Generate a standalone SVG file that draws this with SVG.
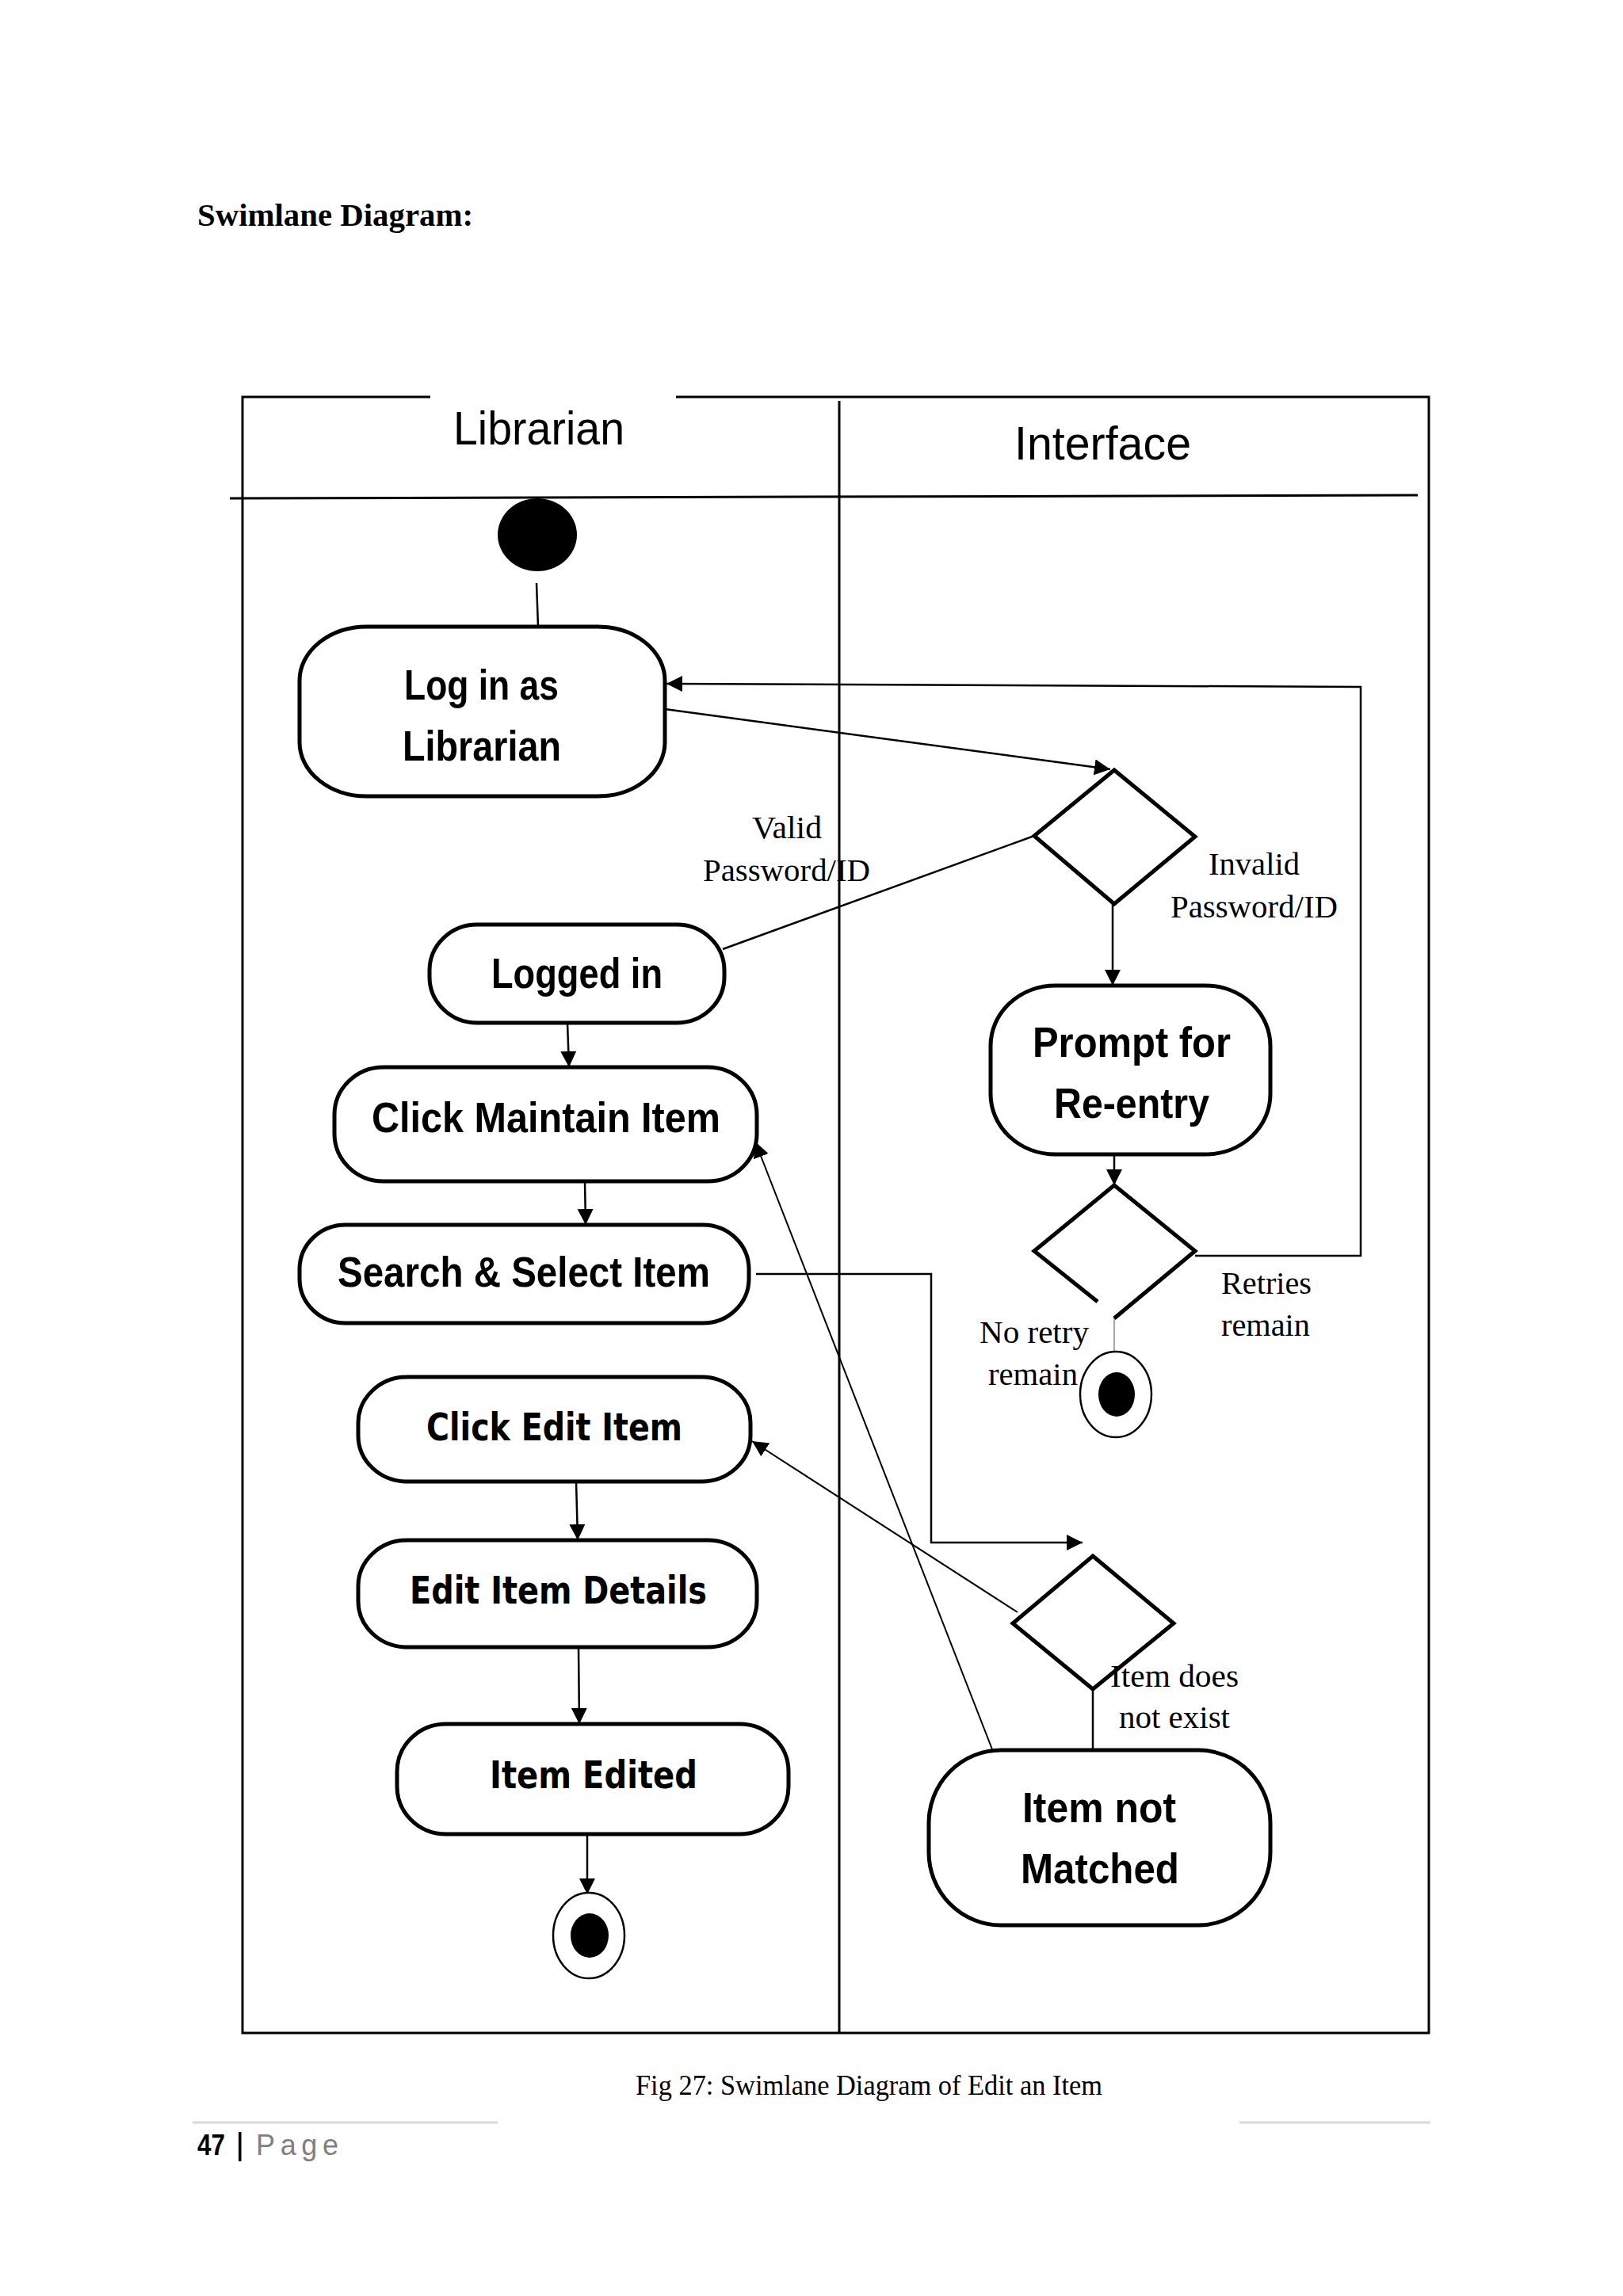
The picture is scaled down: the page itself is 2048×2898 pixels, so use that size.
<svg xmlns="http://www.w3.org/2000/svg" width="2048" height="2898" viewBox="0 0 2048 2898">
<defs>
<style>
.lane{fill:none;stroke:#000;stroke-width:3}
.act{fill:#fff;stroke:#000;stroke-width:5}
.dec{fill:#fff;stroke:#000;stroke-width:5;stroke-linejoin:miter}
.con{fill:none;stroke:#000;stroke-width:2.5}
.thin{fill:none;stroke:#000;stroke-width:2}
.lbl{font-family:"Liberation Sans",Arial,sans-serif;font-weight:bold;font-size:54px;fill:#000}
.lbl2{font-family:"DejaVu Sans",Verdana,sans-serif;font-weight:bold;font-size:48px;fill:#000}
.hdr{font-family:"Liberation Sans",Arial,sans-serif;font-size:60px;fill:#000}
.edge{font-family:"Liberation Serif","Times New Roman",serif;font-size:40px;fill:#000}
</style>
<marker id="arr" markerUnits="userSpaceOnUse" markerWidth="22" markerHeight="22" refX="20" refY="10" orient="auto">
<path d="M0,0 L20,10 L0,20 z" fill="#000"/>
</marker>
</defs>
<rect width="2048" height="2898" fill="#fff"/>

<text x="249" y="285" font-family="'Liberation Serif','Times New Roman',serif" font-weight="bold" font-size="40" textLength="348" lengthAdjust="spacingAndGlyphs">Swimlane Diagram:</text>

<g id="swimlanes">
<polyline class="lane" points="543,501 306,501 306,2566 1803,2566 1803,501 853,501"/>
<line class="lane" x1="1059" y1="506" x2="1059" y2="2566"/>
<line class="lane" x1="290" y1="629" x2="1789" y2="625"/>
<text class="hdr" x="572" y="561" textLength="216" lengthAdjust="spacingAndGlyphs">Librarian</text>
<text class="hdr" x="1280" y="580" font-size="62" textLength="223" lengthAdjust="spacingAndGlyphs">Interface</text>
</g>

<g id="connectors">
<line class="con" x1="677" y1="736" x2="679" y2="791"/>
<line class="con" x1="839" y1="895" x2="1401" y2="971" marker-end="url(#arr)"/>
<line class="con" x1="1305" y1="1055" x2="912" y2="1198"/>
<line class="con" x1="1404" y1="1141" x2="1404" y2="1244" marker-end="url(#arr)"/>
<line class="con" x1="1406" y1="1457" x2="1406" y2="1496" marker-end="url(#arr)"/>
<polyline class="con" points="1508,1585 1717,1585 1717,867 841,863" marker-end="url(#arr)"/>
<line x1="1406" y1="1654" x2="1406" y2="1706" stroke="#888" stroke-width="1.5"/>
<line class="con" x1="716" y1="1291" x2="718" y2="1347" marker-end="url(#arr)"/>
<line class="con" x1="738" y1="1491" x2="739" y2="1546" marker-end="url(#arr)"/>
<polyline class="con" points="954,1608 1175,1608 1175,1947 1366,1947" marker-end="url(#arr)"/>
<line class="thin" x1="1284" y1="2035" x2="949" y2="1819" marker-end="url(#arr)"/>
<line class="thin" x1="1252" y1="2208" x2="953" y2="1441" marker-end="url(#arr)"/>
<line class="con" x1="1379" y1="2132" x2="1379" y2="2209"/>
<line class="con" x1="727" y1="1870" x2="729" y2="1944" marker-end="url(#arr)"/>
<line class="con" x1="730" y1="2079" x2="731" y2="2176" marker-end="url(#arr)"/>
<line class="con" x1="741" y1="2315" x2="741" y2="2391" marker-end="url(#arr)"/>
</g>

<g id="start">
<ellipse cx="678" cy="675" rx="50" ry="46" fill="#000"/>
</g>

<g id="login">
<rect class="act" x="378" y="791" width="461" height="214" rx="85" ry="68"/>
<text class="lbl" x="510" y="883" textLength="195" lengthAdjust="spacingAndGlyphs">Log in as</text>
<text class="lbl" x="508" y="960" textLength="200" lengthAdjust="spacingAndGlyphs">Librarian</text>
</g>

<g id="decision-login">
<polygon class="dec" points="1406,972 1508,1056 1406,1141 1305,1055"/>
<text class="edge" x="949" y="1058" textLength="88" lengthAdjust="spacingAndGlyphs">Valid</text>
<text class="edge" x="887" y="1112" textLength="211" lengthAdjust="spacingAndGlyphs">Password/ID</text>
<text class="edge" x="1525" y="1104" textLength="115" lengthAdjust="spacingAndGlyphs">Invalid</text>
<text class="edge" x="1477" y="1158" textLength="211" lengthAdjust="spacingAndGlyphs">Password/ID</text>
</g>

<g id="logged-in">
<rect class="act" x="542" y="1167" width="372" height="124" rx="60" ry="58"/>
<text class="lbl" x="620" y="1247" textLength="216" lengthAdjust="spacingAndGlyphs">Logged in</text>
</g>

<g id="prompt">
<rect class="act" x="1250" y="1244" width="353" height="213" rx="82" ry="76"/>
<text class="lbl" x="1303" y="1334" textLength="250" lengthAdjust="spacingAndGlyphs">Prompt for</text>
<text class="lbl" x="1330" y="1411" textLength="196" lengthAdjust="spacingAndGlyphs">Re-entry</text>
</g>

<g id="decision-retry">
<polyline class="dec" fill="none" points="1385,1643 1305,1579 1406,1496 1508,1579 1406,1664"/>
<text class="edge" x="1541" y="1633" textLength="114" lengthAdjust="spacingAndGlyphs">Retries</text>
<text class="edge" x="1541" y="1686" textLength="112" lengthAdjust="spacingAndGlyphs">remain</text>
<text class="edge" x="1236" y="1695" textLength="138" lengthAdjust="spacingAndGlyphs">No retry</text>
<text class="edge" x="1247" y="1748" textLength="113" lengthAdjust="spacingAndGlyphs">remain</text>
</g>

<g id="end-retry">
<ellipse cx="1408" cy="1760" rx="45" ry="54" fill="#fff" stroke="#000" stroke-width="2.5"/>
<ellipse cx="1409" cy="1760" rx="23" ry="28" fill="#000"/>
</g>

<g id="click-maintain">
<rect class="act" x="422" y="1347" width="533" height="144" rx="62" ry="60"/>
<text class="lbl" x="469" y="1429" textLength="440" lengthAdjust="spacingAndGlyphs">Click Maintain Item</text>
</g>

<g id="search-select">
<rect class="act" x="378" y="1546" width="567" height="124" rx="58" ry="56"/>
<text class="lbl" x="426" y="1624" textLength="470" lengthAdjust="spacingAndGlyphs">Search &amp; Select Item</text>
</g>

<g id="decision-item">
<polygon class="dec" points="1379,1964 1481,2049 1379,2132 1278,2049"/>
<text class="edge" x="1401" y="2129" textLength="162" lengthAdjust="spacingAndGlyphs">Item does</text>
<text class="edge" x="1412" y="2181" textLength="140" lengthAdjust="spacingAndGlyphs">not exist</text>
</g>

<g id="item-not-matched">
<rect class="act" x="1172" y="2209" width="431" height="221" rx="91" ry="92"/>
<text class="lbl" x="1290" y="2300" textLength="194" lengthAdjust="spacingAndGlyphs">Item not</text>
<text class="lbl" x="1288" y="2377" textLength="200" lengthAdjust="spacingAndGlyphs">Matched</text>
</g>

<g id="click-edit">
<rect class="act" x="452" y="1738" width="495" height="132" rx="62" ry="58"/>
<text class="lbl2" x="538" y="1818" textLength="323" lengthAdjust="spacingAndGlyphs">Click Edit Item</text>
</g>

<g id="edit-details">
<rect class="act" x="452" y="1944" width="503" height="135" rx="62" ry="58"/>
<text class="lbl2" x="517" y="2024" textLength="375" lengthAdjust="spacingAndGlyphs">Edit Item Details</text>
</g>

<g id="item-edited">
<rect class="act" x="501" y="2176" width="494" height="139" rx="62" ry="60"/>
<text class="lbl2" x="618" y="2257" textLength="262" lengthAdjust="spacingAndGlyphs">Item Edited</text>
</g>

<g id="end-edit">
<ellipse cx="743" cy="2443" rx="45" ry="54" fill="#fff" stroke="#000" stroke-width="2.5"/>
<ellipse cx="744" cy="2443" rx="24" ry="28" fill="#000"/>
</g>

<text x="802" y="2644" font-family="'Liberation Serif','Times New Roman',serif" font-size="35" textLength="589" lengthAdjust="spacingAndGlyphs">Fig 27: Swimlane Diagram of Edit an Item</text>

<g id="footer">
<line x1="243" y1="2679" x2="628" y2="2679" stroke="#d9d9d9" stroke-width="3"/>
<line x1="1564" y1="2679" x2="1805" y2="2679" stroke="#d9d9d9" stroke-width="3"/>
<text x="249" y="2720" font-family="'Liberation Sans',Arial,sans-serif" font-weight="bold" font-size="36" textLength="35" lengthAdjust="spacingAndGlyphs">47</text>
<rect x="301" y="2691" width="3.5" height="37" fill="#000"/>
<text x="323" y="2720" font-family="'Liberation Sans',Arial,sans-serif" font-size="36" fill="#7f7f7f" textLength="104" lengthAdjust="spacing">Page</text>
</g>
</svg>
